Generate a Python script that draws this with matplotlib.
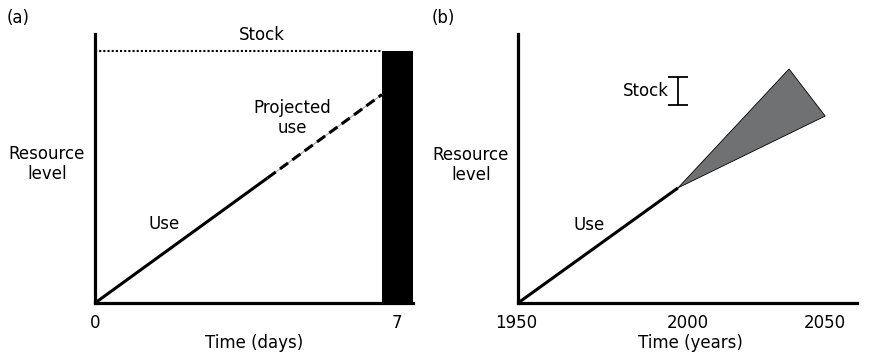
import matplotlib
matplotlib.use('Agg')
import matplotlib.pyplot as plt
from matplotlib.transforms import ScaledTranslation

# Panel (a): resource use over a week, stock shown as a bar
days_use = [0, 4]
level_use = [0, 46.5]
days_proj = [4, 6.65]
level_proj = [46.5, 77.5]
stock_level = 93.7
stock_bar_left = 6.65
stock_bar_width = 0.72
ticks_a = [0, 7]
ticklabels_a = ['0', '7']

# Panel (b): resource use over decades, projection fans out
years_use = [1950, 2000]
level_use_b = [0, 42.8]
years_fan = [2000, 2034.7, 2046]
level_fan = [42.8, 87, 69.5]
stock_year = 2000
stock_mid = 78.8
stock_err = 5.2
ticks_b = [1950, 2000, 2050]
ticklabels_b = ['1950', '2000', '2050']

W, H = 878, 359
fig = plt.figure(figsize=(W / 100, H / 100), dpi=100)
plt.rcParams['font.family'] = 'DejaVu Sans'
FS = 12


def px(x, y):
    return x / W, 1 - y / H


def style(ax):
    for s in ['top', 'right']:
        ax.spines[s].set_visible(False)
    for s in ['left', 'bottom']:
        ax.spines[s].set_linewidth(2.3)
    ax.set_yticks([])
    ax.tick_params(axis='x', length=0, pad=8, labelsize=FS)
    ax.set_ylim(0, 100)


# ---- (a)
ax1 = fig.add_axes([95 / W, 56 / H, 318 / W, 269 / H])
style(ax1)
ax1.set_xlim(0, 7.37)
ax1.plot(days_use, level_use, color='black', lw=2.2, solid_capstyle='butt')
ax1.plot(days_proj, level_proj, color='#999999', lw=0.7)
ax1.plot(days_proj, level_proj, color='black', lw=2.2, linestyle=(0, (3.3, 1.7)))
ax1.plot([0, stock_bar_left], [stock_level, stock_level], color='black', lw=1.5,
         linestyle=(0, (1, 1)))
ax1.bar(stock_bar_left, stock_level, width=stock_bar_width, align='edge', color='black')
ax1.set_xticks(ticks_a, ticklabels_a)
ax1.set_xlabel('Time (days)', fontsize=FS, labelpad=1)
ax1.text(3.87, 99.6, 'Stock', fontsize=FS, ha='center', va='center', clip_on=False)
ax1.text(1.6, 29.4, 'Use', fontsize=FS, ha='center', va='center')
ax1.text(4.57, 68.8, 'Projected\nuse', fontsize=FS, ha='center', va='center',
         linespacing=1.15)

# ---- (b)
ax2 = fig.add_axes([518 / W, 56 / H, 339 / W, 269 / H])
style(ax2)
ax2.set_xlim(1950, 1950 + 339 / 3.2)
ax2.plot(years_use, level_use_b, color='black', lw=2.2, solid_capstyle='butt')
ax2.fill(years_fan, level_fan, facecolor='#707173', edgecolor='black', lw=0.6)
ax2.errorbar([stock_year], [stock_mid], yerr=[stock_err], color='black', lw=1.3,
             capsize=7, capthick=1.3)
ax2.text(1997.3, stock_mid, 'Stock', fontsize=FS, ha='right', va='center')
ax2.text(1972.2, 29, 'Use', fontsize=FS, ha='center', va='center')
ax2.set_xticks(ticks_b, ticklabels_b)
# the original figure spaces its year labels a little unevenly
for lab, dx in zip(ax2.get_xticklabels(), [-2, 10, -13]):
    lab.set_transform(lab.get_transform() + ScaledTranslation(dx / 100, 0, fig.dpi_scale_trans))
ax2.set_xlabel('Time (years)', fontsize=FS, labelpad=1)
ax2.xaxis.label.set_x(0.51)

# y labels and panel letters
for cx, cy in [(47, 164), (471, 165)]:
    fig.text(*px(cx, cy), 'Resource\nlevel', fontsize=FS, ha='center', va='center',
             linespacing=1.15)
fig.text(*px(18, 18), '(a)', fontsize=FS, ha='center', va='center')
fig.text(*px(443, 18), '(b)', fontsize=FS, ha='center', va='center')

fig.savefig('out.png', dpi=100)
